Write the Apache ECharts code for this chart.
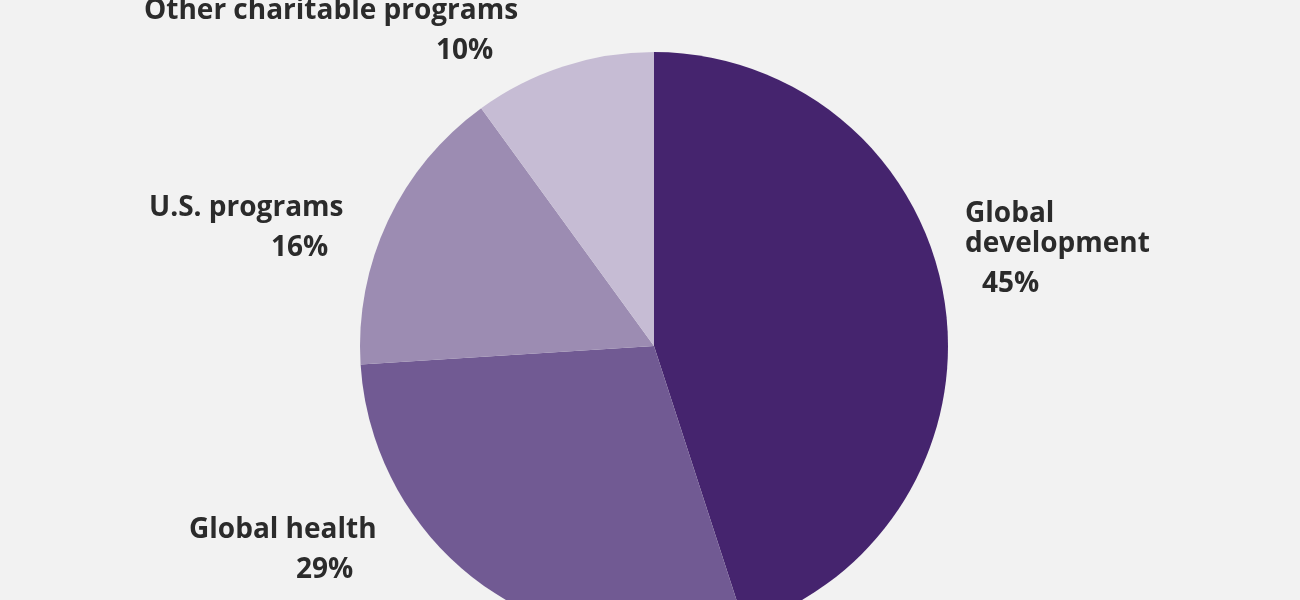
<!DOCTYPE html>
<html lang="en">

<head>
    <meta charset="UTF-8">
    <title>Grant allocation</title>
    <script src="https://cdn.jsdelivr.net/npm/echarts@6/dist/echarts.min.js"></script>
    <style>
        html, body { margin: 0; padding: 0; background: #f2f2f2; }
        #chart { width: 1300px; height: 600px; }
    </style>
</head>

<body>
    <div id="chart"></div>

    <script>
        // slices, clockwise from 12 o'clock
        var categories = ['Global development', 'Global health', 'U.S. programs', 'Other charitable programs'];
        var shares = [45, 29, 16, 10];
        // how each label is broken into lines
        var labelLines = [['Global', 'development'], ['Global health'], ['U.S. programs'], ['Other charitable programs']];
        var colors = ['#45246e', '#715a93', '#9c8cb2', '#c6bcd4'];

        // where each label box sits (left/top) and how far the % line is indented
        var labelPos = [[965, 199], [189, 510], [149, 188], [144, -9]];
        var pctIndent = [17, 107, 122, 292];

        var FONT = 'Open Sans';
        var chart = echarts.init(document.getElementById('chart'));

        var data = categories.map(function (name, i) {
            return {
                name: name,
                value: shares[i],
                itemStyle: { color: colors[i] },
                label: {
                    formatter: function () {
                        var lines = labelLines[i];
                        var tag = lines.length > 1 ? 's' : 'n';
                        var txt = lines.map(function (l) { return '{' + tag + '|' + l + '}'; }).join('\n');
                        return txt + '\n{p' + i + '|' + shares[i] + '%}';
                    }
                }
            };
        });

        var rich = {
            n: { fontSize: 28, fontWeight: 700, lineHeight: 40, color: '#2b2b2b', fontFamily: FONT },
            s: { fontSize: 28, fontWeight: 700, lineHeight: 30, color: '#2b2b2b', fontFamily: FONT }
        };
        shares.forEach(function (v, i) {
            rich['p' + i] = {
                fontSize: 28, fontWeight: 700, color: '#2b2b2b', fontFamily: FONT,
                lineHeight: labelLines[i].length > 1 ? 50 : 40,
                padding: [0, 0, 0, pctIndent[i]]
            };
        });

        chart.setOption({
            backgroundColor: '#f2f2f2',
            animation: false,
            series: [{
                type: 'pie',
                center: [654, 346],
                radius: 294,
                startAngle: 90,
                clockwise: true,
                data: data,
                label: {
                    show: true,
                    position: 'outside',
                    align: 'left',
                    verticalAlign: 'top',
                    rich: rich
                },
                labelLine: { show: false },
                labelLayout: function (params) {
                    var p = labelPos[params.dataIndex];
                    return { x: p[0], y: p[1], align: 'left', verticalAlign: 'top' };
                },
                emphasis: { disabled: true }
            }]
        });
    </script>
</body>

</html>
